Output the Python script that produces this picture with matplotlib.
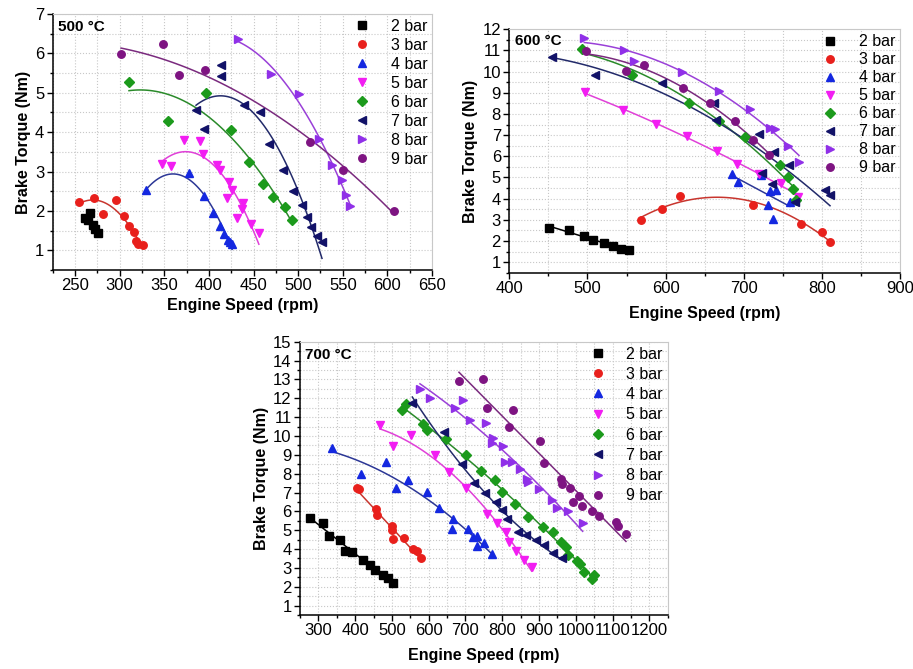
import numpy as np
import matplotlib
matplotlib.use("Agg")
import matplotlib.pyplot as plt
from matplotlib.ticker import MultipleLocator

plt.rcParams['font.family'] = ['Liberation Sans', 'DejaVu Sans']

labels = ["2 bar", "3 bar", "4 bar", "5 bar", "6 bar", "7 bar", "8 bar", "9 bar"]
markers = ['s', 'o', '^', 'v', 'D', '<', '>', 'o']
colors = ['#000000', '#e8201c', '#1428e0', '#f21df2', '#1c9a1c', '#121268', '#9030e8', '#7e1482']
line_colors = ['#000000', '#c8352e', '#2c3796', '#e040d8', '#2a8a2a', '#222a6a', '#9a40d8', '#7a2a7e']

# 500 C
speed_500 = [
    [261, 267, 265, 270, 272, 276],
    [255, 271, 281, 296, 305, 310.5, 316, 318, 321, 326],
    [330, 378, 394, 405, 413, 417, 421, 424, 426],
    [348, 358, 372, 390, 393, 409, 412.5, 422.5, 426, 420, 438, 437, 432, 447, 456],
    [310.5, 354.6, 396.4, 424.4, 444.9, 460.3, 472.2, 485.3, 493.1],
    [385.6, 394.5, 413.9, 413.9, 439.3, 457.3, 467.3, 482.7, 494.6, 503.9, 509.5, 514, 520.7, 526.7],
    [433, 469.3, 501, 523.4, 537.6, 548.8, 553.3, 558.1],
    [301.6, 348.7, 366.2, 396.1, 513.4, 550, 607.9],
]
torque_500 = [
    [1.81, 1.95, 1.78, 1.64, 1.55, 1.45],
    [2.23, 2.33, 1.93, 2.27, 1.88, 1.62, 1.47, 1.24, 1.17, 1.14],
    [2.52, 2.96, 2.39, 1.96, 1.61, 1.42, 1.27, 1.20, 1.16],
    [3.19, 3.15, 3.80, 3.78, 3.44, 3.17, 3.04, 2.74, 2.52, 2.34, 2.20, 2.04, 1.83, 1.67, 1.45],
    [5.27, 4.29, 5.00, 4.06, 3.24, 2.69, 2.36, 2.10, 1.77],
    [4.55, 4.09, 5.70, 5.42, 4.70, 4.51, 3.71, 3.05, 2.51, 2.15, 1.84, 1.59, 1.37, 1.21],
    [6.36, 5.47, 4.96, 3.83, 3.17, 2.78, 2.40, 2.12],
    [5.98, 6.23, 5.44, 5.57, 3.74, 3.04, 2.01],
]
fit_500 = [None, 2, 2, 2, 2, 2, 2, 2]

# 600 C
speed_600 = [
    [450.3, 476.4, 495.6, 507.5, 521.2, 532.3, 542.9, 553.6],
    [568.9, 595, 618.4, 712.3, 772.9, 799.7, 810.4],
    [685, 693, 722, 731, 733, 741, 738, 759],
    [496.8, 545, 587.3, 627.8, 665.4, 691, 720, 747.7, 769.5],
    [492.6, 556.6, 630.4, 668.8, 701.6, 746.4, 757.1, 763.5, 766.9],
    [455, 509.6, 595.4, 661.9, 664.1, 720, 723, 738.7, 736.6, 758, 765.6, 804, 810.4],
    [496, 546.8, 560, 621.4, 668.3, 708, 733.6, 740, 757.1, 770.7],
    [498.1, 548.9, 572.8, 622.7, 656.8, 688.8, 711.4, 732.8],
]
torque_600 = [
    [2.63, 2.50, 2.23, 2.06, 1.89, 1.76, 1.62, 1.55],
    [3.00, 3.52, 4.12, 3.72, 2.79, 2.42, 1.97],
    [5.16, 4.78, 5.10, 3.68, 4.37, 4.42, 3.03, 3.85],
    [9.02, 8.17, 7.54, 6.94, 6.24, 5.64, 5.16, 4.72, 4.09],
    [11.05, 9.86, 8.53, 7.68, 6.90, 5.60, 5.00, 4.45, 3.93],
    [10.67, 9.82, 9.45, 8.50, 7.73, 7.06, 5.21, 6.19, 4.69, 5.61, 3.82, 4.40, 4.18],
    [11.60, 11.02, 10.50, 9.99, 9.07, 8.22, 7.32, 7.30, 6.48, 5.72],
    [10.99, 10.04, 10.31, 9.25, 8.52, 7.66, 6.78, 6.06],
]
fit_600 = [1, 2, 1, 2, 2, 2, 2, 2]

# 700 C
speed_700 = [
    [277.2, 313.4, 329.7, 358.7, 372.3, 392.3, 420.4, 440.3, 453.9, 474.8, 488.4, 502],
    [404.1, 410.4, 456.6, 460.3, 499.3, 499.3, 502, 533.7, 558.2, 567.3, 578.1],
    [336.1, 415.9, 482.9, 510.1, 544.6, 596.3, 627.1, 667, 664.2, 707.8, 721.4, 732.3, 730.5, 751.3, 773.1],
    [467.5, 503.8, 551.8, 618, 656.1, 700.5, 759.4, 784.8, 810.2, 819.2, 837.4, 859.2, 880],
    [526.4, 537.3, 583.6, 596.3, 647, 700.5, 741.3, 780.3, 798.4, 834.7, 871, 910, 939, 959.8,
     972.5, 978, 1002.5, 1011.5, 1023.3, 1045.1, 1049.6],
    [555.5, 641.6, 689.7, 723.2, 753.1, 782.1, 798.4, 813.8, 843.7, 864.6, 891.8, 914.4, 938.9, 961.6],
    [576.3, 603.5, 671.5, 692.3, 712.3, 755.8, 773.9, 773, 802.9, 807.5, 825.6, 848.3, 868.2, 870.9,
     899.9, 935.3, 949.8, 979.7, 1018.7],
    [682.4, 746.8, 757.6, 828.3, 818.3, 902.7, 913.5, 959.8, 961.6, 984.2, 993.3, 1008.7, 1017.8,
     1043.2, 1064, 1108.4, 1113.9, 1136.5],
]
torque_700 = [
    [5.64, 5.38, 4.69, 4.46, 3.92, 3.84, 3.43, 3.13, 2.90, 2.60, 2.45, 2.21],
    [7.26, 7.20, 6.12, 5.78, 5.20, 4.99, 4.51, 4.56, 4.00, 3.87, 3.52],
    [9.38, 8.00, 8.62, 7.24, 7.65, 7.03, 6.19, 5.61, 5.04, 5.08, 4.63, 4.67, 4.15, 4.31, 3.75],
    [10.57, 9.45, 10.07, 8.97, 8.09, 7.24, 5.87, 5.38, 4.93, 4.40, 3.92, 3.43, 3.04],
    [11.40, 11.67, 10.62, 10.34, 9.86, 9.01, 8.14, 7.65, 7.03, 6.39, 5.70, 5.16, 4.90, 4.37,
     4.10, 3.66, 3.39, 3.22, 2.77, 2.42, 2.63],
    [11.76, 10.22, 8.50, 7.52, 6.99, 6.49, 6.05, 5.57, 4.93, 4.76, 4.49, 4.19, 3.80, 3.52],
    [12.47, 12.02, 11.51, 11.90, 10.84, 10.69, 9.90, 9.63, 9.45, 8.62, 8.64, 8.23, 7.73, 7.56,
     7.20, 6.58, 6.17, 6.00, 5.38],
    [12.91, 13.00, 11.51, 11.40, 10.48, 9.74, 8.57, 7.73, 7.47, 7.26, 6.49, 6.81, 6.26,
     6.02, 5.73, 5.43, 5.20, 4.81],
]
fit_700 = [1, 1, 2, 2, 2, 2, 2, 1]


def panel(ax, speeds, torques, fits, title, xlim, ylim, xmaj, xmin, xpad, ypad, leg_sp):
    for i in range(len(labels)):
        x = np.array(speeds[i])
        y = np.array(torques[i])
        ms = 4.8 if markers[i] == 'D' else 5.4
        ax.plot(x, y, linestyle='none', marker=markers[i], color=colors[i],
                markersize=ms, label=labels[i], zorder=3)
        if fits[i] is not None:
            c = np.polyfit(x, y, fits[i])
            xx = np.linspace(x.min(), x.max(), 100)
            ax.plot(xx, np.polyval(c, xx), color=line_colors[i], linewidth=1.1, zorder=2)

    ax.set_xlim(*xlim)
    ax.set_ylim(*ylim)
    ax.xaxis.set_major_locator(MultipleLocator(xmaj))
    ax.xaxis.set_minor_locator(MultipleLocator(xmin))
    ax.yaxis.set_major_locator(MultipleLocator(1))
    ax.yaxis.set_minor_locator(MultipleLocator(0.5))
    ax.grid(True, which='both', linestyle=':', color='#c8c8c8', linewidth=0.8)
    ax.set_axisbelow(True)
    for s in ['top', 'right']:
        ax.spines[s].set_color('#c8c8c8')
    for s in ['left', 'bottom']:
        ax.spines[s].set_linewidth(1.1)
    ax.tick_params(which='major', direction='out', length=4, width=1, labelsize=12, pad=2)
    ax.tick_params(which='minor', direction='out', length=2.5, width=1)
    ax.set_xlabel("Engine Speed (rpm)", fontweight='bold', fontsize=11.5, labelpad=xpad)
    ax.set_ylabel("Brake Torque (Nm)", fontweight='bold', fontsize=11.5, labelpad=ypad)
    ax.text(0.014, 0.95, title, transform=ax.transAxes, fontweight='bold',
            fontsize=11, va='center', ha='left')
    ax.legend(loc='upper right', frameon=False, fontsize=11.5, handlelength=1.0,
              handletextpad=1.3, labelspacing=leg_sp, borderaxespad=0.1, borderpad=0.2)


fig = plt.figure(figsize=(9.13, 6.69), dpi=100)

ax1 = fig.add_axes([0.0577, 0.5964, 0.4155, 0.3827])
panel(ax1, speed_500, torque_500, fit_500, "500 °C", (225, 650), (0.5, 7), 50, 25, 3, 3, 0.25)

ax2 = fig.add_axes([0.5578, 0.5924, 0.428, 0.3638])
panel(ax2, speed_600, torque_600, fit_600, "600 °C", (400, 900), (0.5, 12), 100, 50, 7, 3, 0.19)

ax3 = fig.add_axes([0.3286, 0.0807, 0.4027, 0.4085])
panel(ax3, speed_700, torque_700, fit_700, "700 °C", (250, 1250), (0.5, 15), 100, 50, 7, 3, 0.33)

fig.savefig("out.png", dpi=100)
